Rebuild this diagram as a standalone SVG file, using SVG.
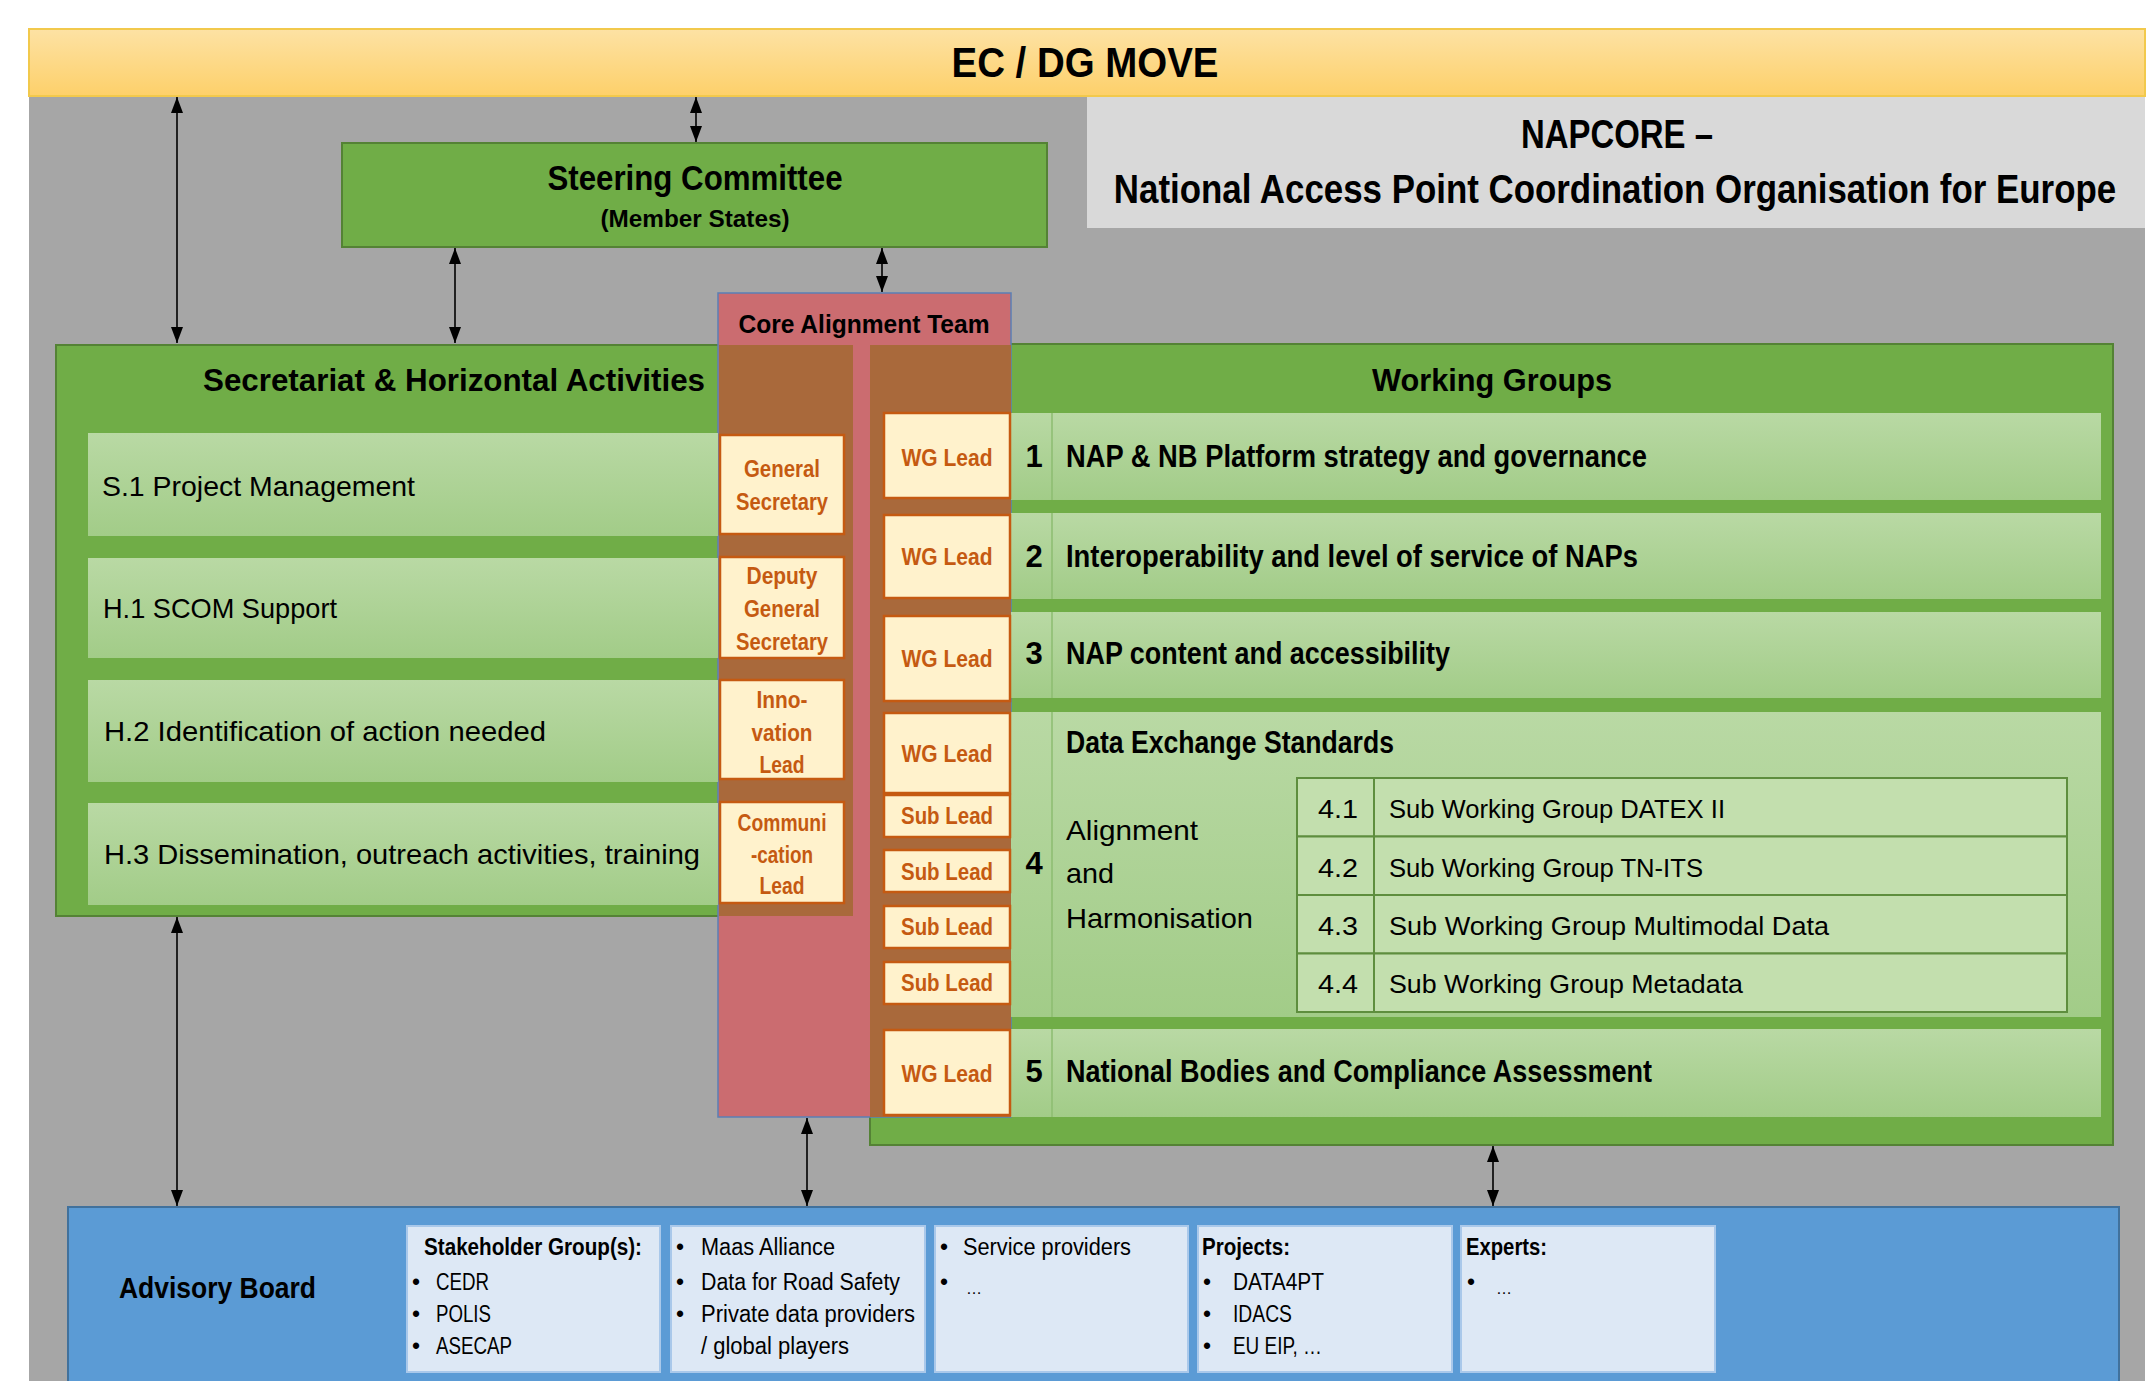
<svg xmlns="http://www.w3.org/2000/svg" width="2156" height="1381" viewBox="0 0 2156 1381">
<defs>
<linearGradient id="yel" x1="0" y1="0" x2="0" y2="1">
<stop offset="0" stop-color="#fde2a4"/>
<stop offset="1" stop-color="#fdd06a"/>
</linearGradient>
<linearGradient id="row" x1="0" y1="0" x2="0" y2="1">
<stop offset="0" stop-color="#b9d9a4"/>
<stop offset="1" stop-color="#a2cc88"/>
</linearGradient>
<marker id="ah" viewBox="0 0 16 12" markerUnits="userSpaceOnUse" markerWidth="16" markerHeight="12" refX="16" refY="6" orient="auto-start-reverse">
<path d="M0,0 L16,6 L0,12 z" fill="#000"/>
</marker>
<style>
text { font-family: "Liberation Sans", Arial, sans-serif; fill: #000; }
.b { font-weight: bold; }
.c { text-anchor: middle; }
.lead { font-weight: bold; fill: #c55a11; text-anchor: middle; font-size: 23px; }
.wgl { font-weight: bold; fill: #c55a11; text-anchor: middle; font-size: 24px; }
.green { fill: #70ad47; stroke: #548235; stroke-width: 2; }
.rowbox { fill: url(#row); }
.cream { fill: #fff2cc; stroke: #c55a11; stroke-width: 2.5; }
.brown { fill: #a9693b; }
.sub { fill: #c3dfae; stroke: #5e8e3e; stroke-width: 2; }
.ib { fill: #dde8f5; stroke: #a9c8ea; stroke-width: 2; }
.num { font-weight: bold; font-size: 31px; text-anchor: middle; }
.rt { font-size: 28px; }
.wt { font-weight: bold; font-size: 31px; }
.st { font-size: 26px; }
.at { font-size: 23px; }
.conn line { stroke: #000; stroke-width: 1.6; marker-start: url(#ah); marker-end: url(#ah); }
</style>
</defs>

<rect x="0" y="0" width="2156" height="1381" fill="#ffffff"/>
<rect id="background" x="29" y="96" width="2116" height="1290" fill="#a6a6a6"/>

<g id="ec-dg-move">
<rect x="29" y="29" width="2116" height="67" fill="url(#yel)" stroke="#f2c94c" stroke-width="2"/>
<text class="b c" x="1085" y="77" font-size="42" textLength="267" lengthAdjust="spacingAndGlyphs">EC / DG MOVE</text>
</g>

<g id="napcore">
<rect x="1087" y="97" width="1058" height="131" fill="#d9d9d9"/>
<text class="b c" x="1617" y="148" font-size="40" textLength="192" lengthAdjust="spacingAndGlyphs">NAPCORE –</text>
<text class="b c" transform="translate(1615,203) scale(0.872,1)" x="0" y="0" font-size="40">National Access Point Coordination Organisation for Europe</text>
</g>

<g id="steering-committee">
<rect class="green" x="342" y="143" width="705" height="104"/>
<text class="b c" x="695" y="190" font-size="35" textLength="295" lengthAdjust="spacingAndGlyphs">Steering Committee</text>
<text class="b c" x="695" y="227" font-size="23" textLength="189" lengthAdjust="spacingAndGlyphs">(Member States)</text>
</g>

<g id="secretariat">
<rect class="green" x="56" y="345" width="797" height="571"/>
<text class="b" x="203" y="391" font-size="32" textLength="502" lengthAdjust="spacingAndGlyphs">Secretariat &amp; Horizontal Activities</text>
</g>

<g id="working-groups">
<rect class="green" x="870" y="344" width="1243" height="801"/>
<text class="b c" x="1492" y="391" font-size="32" textLength="240" lengthAdjust="spacingAndGlyphs">Working Groups</text>
</g>

<g id="core-alignment-team">
<rect x="718" y="293" width="293" height="824" fill="#cb6c70" stroke="#5b7fb5" stroke-width="1.5"/>
<text class="b c" x="864" y="333" font-size="25" textLength="251" lengthAdjust="spacingAndGlyphs">Core Alignment Team</text>
<rect class="brown" x="719" y="345" width="134" height="571"/>
<rect class="brown" x="870" y="345" width="141" height="772"/>
</g>

<g id="s1">
<rect class="rowbox" x="88" y="433" width="630" height="103"/>
<text class="rt" x="102" y="496" textLength="313" lengthAdjust="spacingAndGlyphs">S.1 Project Management</text>
</g>
<g id="h1">
<rect class="rowbox" x="88" y="558" width="630" height="100"/>
<text class="rt" x="103" y="618" textLength="234" lengthAdjust="spacingAndGlyphs">H.1 SCOM Support</text>
</g>
<g id="h2">
<rect class="rowbox" x="88" y="680" width="630" height="102"/>
<text class="rt" x="104" y="741" textLength="442" lengthAdjust="spacingAndGlyphs">H.2 Identification of action needed</text>
</g>
<g id="h3">
<rect class="rowbox" x="88" y="803" width="630" height="102"/>
<text class="rt" x="104" y="864" textLength="596" lengthAdjust="spacingAndGlyphs">H.3 Dissemination, outreach activities, training</text>
</g>

<g id="general-secretary">
<rect class="cream" x="720" y="435" width="124" height="99"/>
<text class="lead" x="782" y="477" textLength="76" lengthAdjust="spacingAndGlyphs">General</text>
<text class="lead" x="782" y="510" textLength="92" lengthAdjust="spacingAndGlyphs">Secretary</text>
</g>
<g id="deputy-general-secretary">
<rect class="cream" x="720" y="557" width="124" height="101"/>
<text class="lead" x="782" y="584" textLength="71" lengthAdjust="spacingAndGlyphs">Deputy</text>
<text class="lead" x="782" y="617" textLength="76" lengthAdjust="spacingAndGlyphs">General</text>
<text class="lead" x="782" y="650" textLength="92" lengthAdjust="spacingAndGlyphs">Secretary</text>
</g>
<g id="innovation-lead">
<rect class="cream" x="720" y="680" width="124" height="99"/>
<text class="lead" x="782" y="708" textLength="51" lengthAdjust="spacingAndGlyphs">Inno-</text>
<text class="lead" x="782" y="741" textLength="61" lengthAdjust="spacingAndGlyphs">vation</text>
<text class="lead" x="782" y="773" textLength="45" lengthAdjust="spacingAndGlyphs">Lead</text>
</g>
<g id="communication-lead">
<rect class="cream" x="720" y="802" width="124" height="101"/>
<text class="lead" x="782" y="831" textLength="89" lengthAdjust="spacingAndGlyphs">Communi</text>
<text class="lead" x="782" y="863" textLength="62" lengthAdjust="spacingAndGlyphs">-cation</text>
<text class="lead" x="782" y="894" textLength="45" lengthAdjust="spacingAndGlyphs">Lead</text>
</g>

<g id="wg1">
<rect class="rowbox" x="1011" y="413" width="1090" height="87"/>
<line x1="1052" y1="413" x2="1052" y2="500" stroke="#8dbd70" stroke-width="1.5"/>
<text class="num" x="1034" y="467">1</text>
<text class="wt" x="1066" y="467" textLength="581" lengthAdjust="spacingAndGlyphs">NAP &amp; NB Platform strategy and governance</text>
</g>
<g id="wg2">
<rect class="rowbox" x="1011" y="513" width="1090" height="86"/>
<line x1="1052" y1="513" x2="1052" y2="599" stroke="#8dbd70" stroke-width="1.5"/>
<text class="num" x="1034" y="567">2</text>
<text class="wt" x="1066" y="567" textLength="572" lengthAdjust="spacingAndGlyphs">Interoperability and level of service of NAPs</text>
</g>
<g id="wg3">
<rect class="rowbox" x="1011" y="612" width="1090" height="86"/>
<line x1="1052" y1="612" x2="1052" y2="698" stroke="#8dbd70" stroke-width="1.5"/>
<text class="num" x="1034" y="664">3</text>
<text class="wt" x="1066" y="664" textLength="384" lengthAdjust="spacingAndGlyphs">NAP content and accessibility</text>
</g>
<g id="wg4">
<rect class="rowbox" x="1011" y="712" width="1090" height="305"/>
<line x1="1052" y1="712" x2="1052" y2="1017" stroke="#8dbd70" stroke-width="1.5"/>
<text class="num" x="1034" y="874">4</text>
<text class="wt" x="1066" y="753" textLength="328" lengthAdjust="spacingAndGlyphs">Data Exchange Standards</text>
<text class="rt" x="1066" y="840" textLength="132" lengthAdjust="spacingAndGlyphs">Alignment</text>
<text class="rt" x="1066" y="883" textLength="48" lengthAdjust="spacingAndGlyphs">and</text>
<text class="rt" x="1066" y="928" textLength="187" lengthAdjust="spacingAndGlyphs">Harmonisation</text>
</g>
<g id="wg4-1">
<rect class="sub" x="1297" y="778" width="770" height="58.5"/>
<line x1="1374" y1="778" x2="1374" y2="836.5" stroke="#5e8e3e" stroke-width="2"/>
<text class="st c" x="1338" y="818" textLength="40" lengthAdjust="spacingAndGlyphs">4.1</text>
<text class="st" x="1389" y="818" textLength="336" lengthAdjust="spacingAndGlyphs">Sub Working Group DATEX II</text>
</g>
<g id="wg4-2">
<rect class="sub" x="1297" y="836.5" width="770" height="58.5"/>
<line x1="1374" y1="836.5" x2="1374" y2="895" stroke="#5e8e3e" stroke-width="2"/>
<text class="st c" x="1338" y="877" textLength="40" lengthAdjust="spacingAndGlyphs">4.2</text>
<text class="st" x="1389" y="877" textLength="314" lengthAdjust="spacingAndGlyphs">Sub Working Group TN-ITS</text>
</g>
<g id="wg4-3">
<rect class="sub" x="1297" y="895" width="770" height="58.5"/>
<line x1="1374" y1="895" x2="1374" y2="953.5" stroke="#5e8e3e" stroke-width="2"/>
<text class="st c" x="1338" y="935" textLength="40" lengthAdjust="spacingAndGlyphs">4.3</text>
<text class="st" x="1389" y="935" textLength="440" lengthAdjust="spacingAndGlyphs">Sub Working Group Multimodal Data</text>
</g>
<g id="wg4-4">
<rect class="sub" x="1297" y="953.5" width="770" height="58.5"/>
<line x1="1374" y1="953.5" x2="1374" y2="1012" stroke="#5e8e3e" stroke-width="2"/>
<text class="st c" x="1338" y="993" textLength="40" lengthAdjust="spacingAndGlyphs">4.4</text>
<text class="st" x="1389" y="993" textLength="354" lengthAdjust="spacingAndGlyphs">Sub Working Group Metadata</text>
</g>
<g id="wg5">
<rect class="rowbox" x="1011" y="1029" width="1090" height="88"/>
<line x1="1052" y1="1029" x2="1052" y2="1117" stroke="#8dbd70" stroke-width="1.5"/>
<text class="num" x="1034" y="1082">5</text>
<text class="wt" x="1066" y="1082" textLength="586" lengthAdjust="spacingAndGlyphs">National Bodies and Compliance Assessment</text>
</g>

<g id="wg-leads">
<rect class="cream" x="884" y="413" width="126" height="85"/>
<text class="wgl" x="947" y="466" textLength="91" lengthAdjust="spacingAndGlyphs">WG Lead</text>
<rect class="cream" x="884" y="515" width="126" height="83"/>
<text class="wgl" x="947" y="565" textLength="91" lengthAdjust="spacingAndGlyphs">WG Lead</text>
<rect class="cream" x="884" y="616" width="126" height="85"/>
<text class="wgl" x="947" y="667" textLength="91" lengthAdjust="spacingAndGlyphs">WG Lead</text>
<rect class="cream" x="884" y="713" width="126" height="80"/>
<text class="wgl" x="947" y="762" textLength="91" lengthAdjust="spacingAndGlyphs">WG Lead</text>
<rect class="cream" x="884" y="795" width="126" height="42"/>
<text class="wgl" x="947" y="824" textLength="92" lengthAdjust="spacingAndGlyphs">Sub Lead</text>
<rect class="cream" x="884" y="850" width="126" height="42"/>
<text class="wgl" x="947" y="880" textLength="92" lengthAdjust="spacingAndGlyphs">Sub Lead</text>
<rect class="cream" x="884" y="906" width="126" height="42"/>
<text class="wgl" x="947" y="935" textLength="92" lengthAdjust="spacingAndGlyphs">Sub Lead</text>
<rect class="cream" x="884" y="962" width="126" height="42"/>
<text class="wgl" x="947" y="991" textLength="92" lengthAdjust="spacingAndGlyphs">Sub Lead</text>
<rect class="cream" x="884" y="1030" width="126" height="85"/>
<text class="wgl" x="947" y="1082" textLength="91" lengthAdjust="spacingAndGlyphs">WG Lead</text>
</g>

<g id="advisory-board">
<rect x="68" y="1207" width="2051" height="190" fill="#5b9bd5" stroke="#41719c" stroke-width="2"/>
<text class="b" x="119" y="1298" font-size="30" textLength="197" lengthAdjust="spacingAndGlyphs">Advisory Board</text>
</g>
<g id="ab-stakeholders">
<rect class="ib" x="407" y="1226" width="253" height="146"/>
<text class="at b" x="424" y="1255" textLength="218" lengthAdjust="spacingAndGlyphs">Stakeholder Group(s):</text>
<text class="at" x="412" y="1290">•</text><text class="at" x="436" y="1290" textLength="53" lengthAdjust="spacingAndGlyphs">CEDR</text>
<text class="at" x="412" y="1322">•</text><text class="at" x="436" y="1322" textLength="55" lengthAdjust="spacingAndGlyphs">POLIS</text>
<text class="at" x="412" y="1354">•</text><text class="at" x="436" y="1354" textLength="76" lengthAdjust="spacingAndGlyphs">ASECAP</text>
</g>
<g id="ab-alliances">
<rect class="ib" x="671" y="1226" width="254" height="146"/>
<text class="at" x="676" y="1255">•</text><text class="at" x="701" y="1255" textLength="134" lengthAdjust="spacingAndGlyphs">Maas Alliance</text>
<text class="at" x="676" y="1290">•</text><text class="at" x="701" y="1290" textLength="199" lengthAdjust="spacingAndGlyphs">Data for Road Safety</text>
<text class="at" x="676" y="1322">•</text><text class="at" x="701" y="1322" textLength="214" lengthAdjust="spacingAndGlyphs">Private data providers</text>
<text class="at" x="701" y="1354" textLength="148" lengthAdjust="spacingAndGlyphs">/ global players</text>
</g>
<g id="ab-service">
<rect class="ib" x="935" y="1226" width="253" height="146"/>
<text class="at" x="940" y="1255">•</text><text class="at" x="963" y="1255" textLength="168" lengthAdjust="spacingAndGlyphs">Service providers</text>
<text class="at" x="940" y="1290">•</text><text x="966" y="1294" font-size="16">…</text>
</g>
<g id="ab-projects">
<rect class="ib" x="1198" y="1226" width="254" height="146"/>
<text class="at b" x="1202" y="1255" textLength="88" lengthAdjust="spacingAndGlyphs">Projects:</text>
<text class="at" x="1203" y="1290">•</text><text class="at" x="1233" y="1290" textLength="91" lengthAdjust="spacingAndGlyphs">DATA4PT</text>
<text class="at" x="1203" y="1322">•</text><text class="at" x="1233" y="1322" textLength="59" lengthAdjust="spacingAndGlyphs">IDACS</text>
<text class="at" x="1203" y="1354">•</text><text class="at" x="1233" y="1354" textLength="89" lengthAdjust="spacingAndGlyphs">EU EIP, …</text>
</g>
<g id="ab-experts">
<rect class="ib" x="1461" y="1226" width="254" height="146"/>
<text class="at b" x="1466" y="1255" textLength="81" lengthAdjust="spacingAndGlyphs">Experts:</text>
<text class="at" x="1467" y="1290">•</text><text x="1496" y="1294" font-size="16">…</text>
</g>

<g id="connectors" class="conn">
<line x1="177" y1="97" x2="177" y2="343"/>
<line x1="696" y1="97" x2="696" y2="142"/>
<line x1="455" y1="248" x2="455" y2="343"/>
<line x1="882" y1="248" x2="882" y2="292"/>
<line x1="177" y1="917" x2="177" y2="1206"/>
<line x1="807" y1="1118" x2="807" y2="1206"/>
<line x1="1493" y1="1146" x2="1493" y2="1206"/>
</g>
</svg>
